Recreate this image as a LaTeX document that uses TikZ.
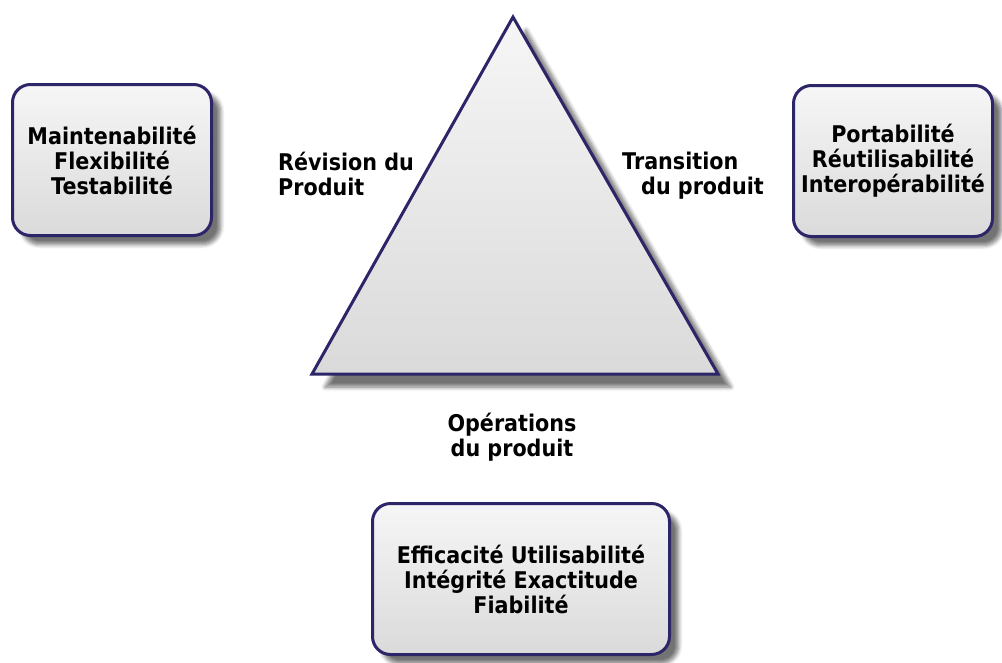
\documentclass[tikz,border=0pt]{standalone}
\usepackage{fontspec}
\setmainfont{DejaVu Sans}[FakeStretch=0.9]
\usetikzlibrary{shadows.blur}
\definecolor{edge}{RGB}{44,38,104}
\definecolor{filltop}{RGB}{246,246,246}
\definecolor{fillbot}{RGB}{218,218,218}
\definecolor{shade}{RGB}{150,150,150}
\tikzset{
  txt/.style={font=\bfseries\fontsize{23}{25}\selectfont, align=center, inner sep=0pt, text=black},
  box/.style={txt, draw=edge, line width=3pt, rounded corners=18pt, top color=filltop, bottom color=fillbot,
    blur shadow={shadow xshift=9pt, shadow yshift=-9pt, shadow blur steps=6, shadow blur radius=4pt, shadow opacity=55}},
  lbl/.style={txt}
}
\begin{document}
\begin{tikzpicture}[x=1pt,y=-1pt]
\useasboundingbox (0,0) rectangle (1002,662);
% triangle
\coordinate (apex) at (513,17);
\coordinate (bl) at (312,374);
\coordinate (br) at (718,374);
\path[draw=edge, line width=3pt, line join=miter, top color=filltop, bottom color=fillbot,
  blur shadow={shadow xshift=13pt, shadow yshift=-13pt, shadow blur steps=6, shadow blur radius=4pt, shadow opacity=55}]
  (apex) -- (br) -- (bl) -- cycle;
% boxes
\node[box, minimum width=199pt, minimum height=151pt] (rev) at (112,160)
  {Maintenabilité\\Flexibilité\\Testabilité};
\node[box, minimum width=199pt, minimum height=151pt] (tra) at (893,161)
  {Portabilité\\Réutilisabilité\\Interopérabilité};
\node[box, minimum width=297pt, minimum height=151pt] (ope) at (521,579)
  {Efficacité Utilisabilité\\Intégrité Exactitude\\Fiabilité};
% labels
\node[lbl, align=left, anchor=north west] (lrev) at (278,152) {Révision du\\Produit};
\node[lbl, align=left, anchor=north west] (ltra) at (622,152) {Transition\\\hspace*{19pt}du produit};
\node[lbl, anchor=north] (lope) at (512,413) {Opérations\\du produit};
\end{tikzpicture}
\end{document}
